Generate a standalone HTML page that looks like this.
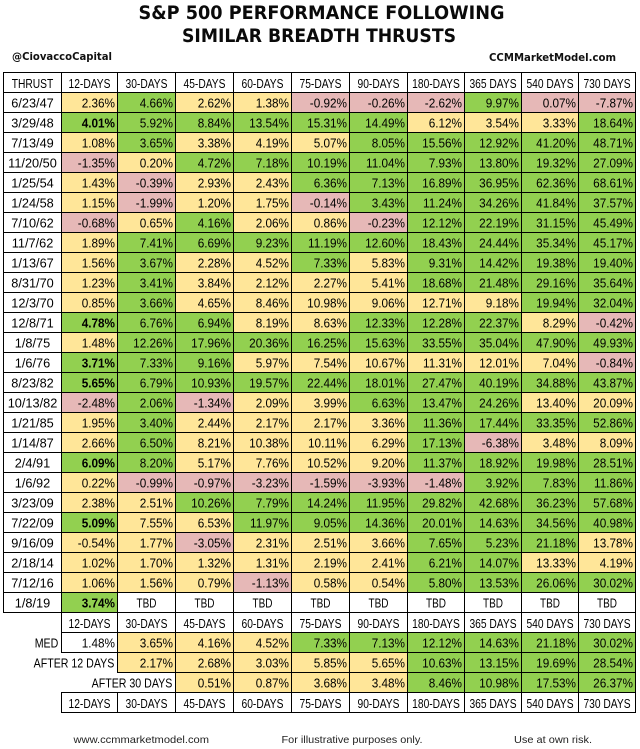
<!DOCTYPE html>
<html lang="en">
<head>
<meta charset="utf-8">
<title>S&amp;P 500 Performance Following Similar Breadth Thrusts</title>
<style>
html,body{margin:0;padding:0;background:#fff;}
svg{display:block;}
text{font-family:"Liberation Sans",Arial,sans-serif;fill:#000;}
.title{font-family:"DejaVu Sans","Liberation Sans",sans-serif;font-weight:700;font-size:18.5px;fill:#0a0a0a;}
.sub{font-family:"DejaVu Sans","Liberation Sans",sans-serif;font-weight:700;font-size:10.5px;fill:#111;}
.foot{font-size:10.5px;fill:#222;}
.cell-text{font-size:12.5px;fill:#000;}
</style>
</head>
<body>
<svg id="chart" xmlns="http://www.w3.org/2000/svg" width="640" height="749" viewBox="0 0 640 749">
  <text class="title" x="138.5" y="19" textLength="366" lengthAdjust="spacingAndGlyphs">S&amp;P 500 PERFORMANCE FOLLOWING</text>
  <text class="title" x="182" y="42" textLength="274" lengthAdjust="spacingAndGlyphs">SIMILAR BREADTH THRUSTS</text>
  <text class="sub" x="12" y="60" textLength="100" lengthAdjust="spacingAndGlyphs">@CiovaccoCapital</text>
  <text class="sub" x="489" y="61" textLength="127" lengthAdjust="spacingAndGlyphs">CCMMarketModel.com</text>
  <g id="table"></g>
  <text class="foot" x="73.5" y="743" textLength="135.5" lengthAdjust="spacingAndGlyphs">www.ccmmarketmodel.com</text>
  <text class="foot" x="281.5" y="743" textLength="141" lengthAdjust="spacingAndGlyphs">For illustrative purposes only.</text>
  <text class="foot" x="514" y="743" textLength="78" lengthAdjust="spacingAndGlyphs">Use at own risk.</text>
</svg>
<script>
const firstColumnTitle = "THRUST";
const windows = ["12-DAYS","30-DAYS","45-DAYS","60-DAYS","75-DAYS","90-DAYS","180-DAYS","365 DAYS","540 DAYS","730 DAYS"];
const thrustDates = ["6/23/47","3/29/48","7/13/49","11/20/50","1/25/54","1/24/58","7/10/62","11/7/62","1/13/67","8/31/70","12/3/70","12/8/71","1/8/75","1/6/76","8/23/82","10/13/82","1/21/85","1/14/87","2/4/91","1/6/92","3/23/09","7/22/09","9/16/09","2/18/14","7/12/16","1/8/19"];
const returns = [
[2.36,4.66,2.62,1.38,-0.92,-0.26,-2.62,9.97,0.07,-7.87],
[4.01,5.92,8.84,13.54,15.31,14.49,6.12,3.54,3.33,18.64],
[1.08,3.65,3.38,4.19,5.07,8.05,15.56,12.92,41.20,48.71],
[-1.35,0.20,4.72,7.18,10.19,11.04,7.93,13.80,19.32,27.09],
[1.43,-0.39,2.93,2.43,6.36,7.13,16.89,36.95,62.36,68.61],
[1.15,-1.99,1.20,1.75,-0.14,3.43,11.24,34.26,41.84,37.57],
[-0.68,0.65,4.16,2.06,0.86,-0.23,12.12,22.19,31.15,45.49],
[1.89,7.41,6.69,9.23,11.19,12.60,18.43,24.44,35.34,45.17],
[1.56,3.67,2.28,4.52,7.33,5.83,9.31,14.42,19.38,19.40],
[1.23,3.41,3.84,2.12,2.27,5.41,18.68,21.48,29.16,35.64],
[0.85,3.66,4.65,8.46,10.98,9.06,12.71,9.18,19.94,32.04],
[4.78,6.76,6.94,8.19,8.63,12.33,12.28,22.37,8.29,-0.42],
[1.48,12.26,17.96,20.36,16.25,15.63,33.55,35.04,47.90,49.93],
[3.71,7.33,9.16,5.97,7.54,10.67,11.31,12.01,7.04,-0.84],
[5.65,6.79,10.93,19.57,22.44,18.01,27.47,40.19,34.88,43.87],
[-2.48,2.06,-1.34,2.09,3.99,6.63,13.47,24.26,13.40,20.09],
[1.95,3.40,2.44,2.17,2.17,3.36,11.36,17.44,33.35,52.86],
[2.66,6.50,8.21,10.38,10.11,6.29,17.13,-6.38,3.48,8.09],
[6.09,8.20,5.17,7.76,10.52,9.20,11.37,18.92,19.98,28.51],
[0.22,-0.99,-0.97,-3.23,-1.59,-3.93,-1.48,3.92,7.83,11.86],
[2.38,2.51,10.26,7.79,14.24,11.95,29.82,42.68,36.23,57.68],
[5.09,7.55,6.53,11.97,9.05,14.36,20.01,14.63,34.56,40.98],
[-0.54,1.77,-3.05,2.31,2.51,3.66,7.65,5.23,21.18,13.78],
[1.02,1.70,1.32,1.31,2.19,2.41,6.21,14.07,13.33,4.19],
[1.06,1.56,0.79,-1.13,0.58,0.54,5.80,13.53,26.06,30.02],
[3.74,null,null,null,null,null,null,null,null,null]
];
/* rating per cell: G strong, Y middling, R weak, - unrated */
const ratings = [
"YGYYRRRGRR","GGGGGGYYYG","YGYYYGGGGG","RYGGGGGGGG","YRYYGGGGGG","YRYYRGGGGG",
"RYGYYRGGGG","YGGGGGGGGG","YGYYGYGGGG","YGYYYYGGGG","YGYYYYYYGG","GGGYYGGGYR",
"YGGGGGGGGG","GGGYYYYYYR","GGGGGGGGGG","RGRYYGGGYY","YGYYYYGGGG","YGYYYYGRYY",
"GGYYYYGGGG","YRRRRRRGGG","YYGGGGGGGG","GYYGGGGGGG","YYRYYYGGGY","YYYYYYGGYY",
"YYYRYYGGGG","G---------"
];
const summaryLabels = ["MED","AFTER 12 DAYS","AFTER 30 DAYS"];
const medianReturns = [1.48,3.65,4.16,4.52,7.33,7.13,12.12,14.63,21.18,30.02];
const after12Returns = [null,2.17,2.68,3.03,5.85,5.65,10.63,13.15,19.69,28.54];
const after30Returns = [null,null,0.51,0.87,3.68,3.48,8.46,10.98,17.53,26.37];
const medianRatings = "-YYYGGGGGG";
const after12Ratings = "-YYYYYGGGG";
const after30Ratings = "--YYYYGGGG";

const NS = "http://www.w3.org/2000/svg";
const table = document.getElementById("table");
const fills = {G:"#92D050",Y:"#FFE699",R:"#E6B8B7","-":"#FFFFFF"};
const TEXT_SCALE = {num:0.94,date:1.02,head:0.82,tbd:0.8,label:0.85};

function colLeft(i){ return 61.5 + (i>0?56:0) + 58*Math.min(Math.max(i-1,0),5) + 57*Math.max(i-6,0); }
function rowTop(r){ return 72.5 + 20*r; }
function slug(s){ return String(s).toLowerCase().replace(/[^a-z0-9]+/g,"-"); }

function addRect(x,y,w,h,fill,parent){
  const el = document.createElementNS(NS,"rect");
  el.setAttribute("x",x);
  el.setAttribute("y",y);
  el.setAttribute("width",w);
  el.setAttribute("height",h);
  el.setAttribute("fill",fill);
  el.setAttribute("stroke","#000");
  el.setAttribute("stroke-width","1");
  el.setAttribute("shape-rendering","crispEdges");
  parent.appendChild(el);
  return el;
}
function addText(str,x,y,anchor,scale,bold,parent){
  const el = document.createElementNS(NS,"text");
  el.setAttribute("class","cell-text");
  el.setAttribute("text-anchor",anchor);
  el.setAttribute("transform","translate("+x+","+y+") scale("+scale+",1)");
  if(bold) el.setAttribute("font-weight","700");
  el.textContent = str;
  parent.appendChild(el);
  return el;
}
function addGroup(name){
  const g = document.createElementNS(NS,"g");
  
  
  table.appendChild(g);
  return g;
}
function fmt(v){ return v.toFixed(2)+"%"; }

function drawHeaderRow(r,prefix){
  windows.forEach(function(w,c){
    const g = addGroup(prefix+"-"+slug(w));
    const x0 = colLeft(c), x1 = colLeft(c+1);
    addRect(x0,rowTop(r),x1-x0,20,"#FFFFFF",g);
    addText(w,(x0+x1)/2,rowTop(r)+15.5,"middle",TEXT_SCALE.head,false,g);
  });
}
function drawValue(v,rating,r,c,name,bold,tbd){
  const g = addGroup(name);
  const x0 = colLeft(c), x1 = colLeft(c+1);
  addRect(x0,rowTop(r),x1-x0,20,fills[rating],g);
  if(v===null){
    if(tbd) addText("TBD",(x0+x1)/2,rowTop(r)+15,"middle",TEXT_SCALE.tbd,false,g);
  } else {
    addText(fmt(v),x1-2.5,rowTop(r)+15,"end",TEXT_SCALE.num,bold,g);
  }
}

/* header */
const thrustHead = addGroup("thrust-column-header");
addRect(3.5,rowTop(0),58,20,"#FFFFFF",thrustHead);
addText(firstColumnTitle,32.5,rowTop(0)+15.5,"middle",TEXT_SCALE.head,false,thrustHead);
drawHeaderRow(0,"column-header");

/* body */
thrustDates.forEach(function(d,i){
  const r = i+1;
  const dg = addGroup("thrust-date-"+slug(d));
  addRect(3.5,rowTop(r),58,20,"#FFFFFF",dg);
  addText(d,32.5,rowTop(r)+15,"middle",TEXT_SCALE.date,false,dg);
  returns[i].forEach(function(v,c){
    const rating = ratings[i].charAt(c);
    drawValue(v,rating,r,c,"return-"+slug(d)+"-"+slug(windows[c]),c===0&&rating==="G",true);
  });
});

/* summary */
const summaryStart = thrustDates.length+1;
drawHeaderRow(summaryStart,"summary-header");
[[medianReturns,medianRatings],[after12Returns,after12Ratings],[after30Returns,after30Ratings]].forEach(function(row,i){
  const r = summaryStart+1+i;
  const labelGroup = addGroup("summary-label-"+slug(summaryLabels[i]));
  addText(summaryLabels[i],colLeft(i)-3.2,rowTop(r)+15,"end",TEXT_SCALE.label,false,labelGroup);
  row[0].forEach(function(v,c){
    if(v!==null) drawValue(v,row[1].charAt(c),r,c,"summary-"+slug(summaryLabels[i])+"-"+slug(windows[c]),false,false);
  });
});
drawHeaderRow(summaryStart+4,"footer-header");
</script>
</body>
</html>
